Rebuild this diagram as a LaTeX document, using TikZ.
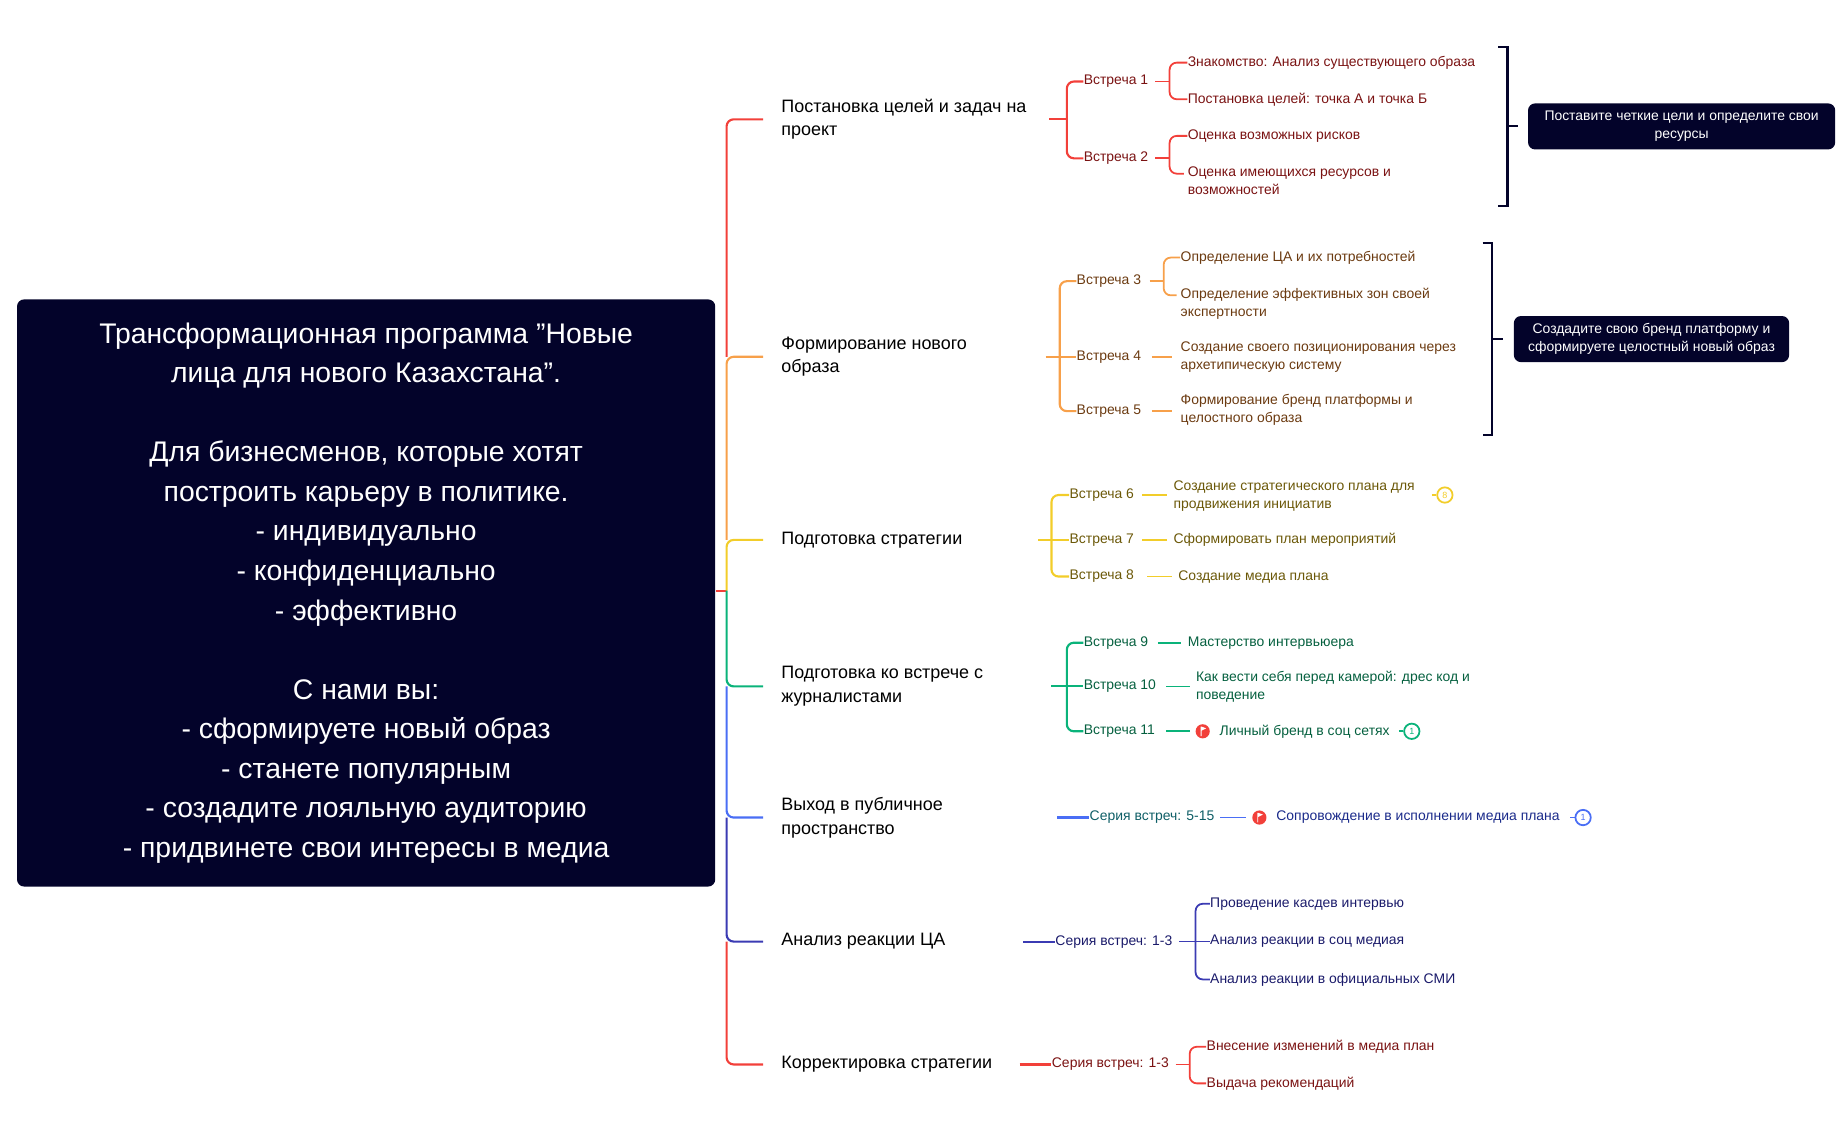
\documentclass[tikz,border=0pt]{standalone}
\usepackage{fontspec}
\setmainfont{Liberation Sans}
\begin{document}
\definecolor{navy}{HTML}{03032A}
\definecolor{cR}{HTML}{F2403A}\definecolor{tR}{HTML}{7A1212}
\definecolor{cO}{HTML}{F7A04A}\definecolor{tO}{HTML}{6B3A10}
\definecolor{cY}{HTML}{F2CD2A}\definecolor{tY}{HTML}{6B5808}
\definecolor{cG}{HTML}{0AB37A}\definecolor{tG}{HTML}{05603F}
\definecolor{cB}{HTML}{4A6EF5}\definecolor{tB}{HTML}{1A2A8A}
\definecolor{cI}{HTML}{3B3BB3}\definecolor{tI}{HTML}{1A1A6A}
\definecolor{tT}{HTML}{0E5E66}
\begin{tikzpicture}[x=0.5pt,y=-0.5pt,
  topic/.style={anchor=west,inner sep=0pt,font=\fontsize{7.6}{10}\selectfont,align=left},
  sm/.style={anchor=west,inner sep=0pt,font=\fontsize{5.9}{7.6}\selectfont,align=left},
  br/.style={line width=0.9pt,rounded corners=3pt},
  thin/.style={line width=0.75pt},
  dark/.style={fill=navy,rounded corners=3pt,text=white,font=\fontsize{5.9}{7.6}\selectfont,align=center,inner sep=0pt}]
\useasboundingbox (0,0) rectangle (1560,965);
% main box
\node[dark,minimum width=295.5pt,minimum height=248.5pt,anchor=north west,font=\fontsize{12}{16.75}\selectfont] (main) at (14,253)
 {Трансформационная программа "Новые\\лица для нового Казахстана".\\[16.75pt]Для бизнесменов, которые хотят\\построить карьеру в политике.\\- индивидуально\\- конфиденциально\\- эффективно\\[16.75pt]С нами вы:\\- сформируете новый образ\\- станете популярным\\- создадите лояльную аудиторию\\- придвинете свои интересы в медиа};
\coordinate (root) at (615,500);
\draw[cR,line width=1pt] (main.east|-root) -- (root);
% topics
\node[topic] (t1) at (661,101) {Постановка целей и задач на\\проект};
\node[topic] (t2) at (661,302) {Формирование нового\\образа};
\node[topic] (t3) at (661,457) {Подготовка стратегии};
\node[topic] (t4) at (661,581) {Подготовка ко встрече с\\журналистами};
\node[topic] (t5) at (661,692) {Выход в публичное\\пространство};
\node[topic] (t6) at (661,797) {Анализ реакции ЦА};
\node[topic] (t7) at (661,901) {Корректировка стратегии};
\draw[cY,br] (root) -- (615,457) -- (646,457);
\draw[cO,br] (615,457) -- (615,302) -- (646,302);
\draw[cR,br] (615,302) -- (615,101) -- (646,101);
\draw[cG,br] (root) -- (615,581) -- (646,581);
\draw[cB,br] (615,581) -- (615,692) -- (646,692);
\draw[cI,br] (615,692) -- (615,797) -- (646,797);
\draw[cR,br] (615,797) -- (615,901) -- (646,901);
% ---------- branch 1
\begin{scope}[tR]
\node[sm] (m1) at (917,69) {Встреча 1};
\node[sm] (m2) at (917,134) {Встреча 2};
\node[sm] (a1) at (1005,53) {Знакомство: Анализ существующего образа};
\node[sm] (a2) at (1005,84) {Постановка целей: точка А и точка Б};
\node[sm] (a3) at (1005,115) {Оценка возможных рисков};
\node[sm] (a4) at (1005,153) {Оценка имеющихся ресурсов и\\возможностей};
\end{scope}
\draw[cR,br] (888,101) -- (903,101);
\draw[cR,br] (m1.west) -- (903,69) -- (903,134) -- (m2.west);
\draw[cR,thin] (978,69) -- (990,69);
\draw[cR,thin,rounded corners=3pt] (a1.west) -- (990,53) -- (990,84) -- (a2.west);
\draw[cR,thin] (978,134) -- (990,134);
\draw[cR,thin,rounded corners=3pt] (a3.west) -- (990,115) -- (990,147) -- (1002,147);
\draw[navy,line width=0.9pt] (1268,40) -- (1276,40) -- (1276,174) -- (1268,174) (1276,107) -- (1285,107);
\node[dark,minimum width=130pt,minimum height=19.5pt,anchor=west] (g1) at (1293,107) {Поставите четкие цели и определите свои\\ресурсы};
% ---------- branch 2
\begin{scope}[tO]
\node[sm] (m3) at (911,238) {Встреча 3};
\node[sm] (m4) at (911,302) {Встреча 4};
\node[sm] (m5) at (911,348) {Встреча 5};
\node[sm] (b1) at (999,218) {Определение ЦА и их потребностей};
\node[sm] (b2) at (999,257) {Определение эффективных зон своей\\экспертности};
\node[sm] (b3) at (999,302) {Создание своего позиционирования через\\архетипическую систему};
\node[sm] (b4) at (999,347) {Формирование бренд платформы и\\целостного образа};
\end{scope}
\draw[cO,br] (885,302) -- (m4.west);
\draw[cO,br] (m3.west) -- (897,238) -- (897,348) -- (m5.west);
\draw[cO,thin] (973,238) -- (985,238);
\draw[cO,thin,rounded corners=3pt] (b1.west) -- (985,218) -- (985,250) -- (996,250);
\draw[cO,thin] (975,302) -- (992,302);
\draw[cO,thin] (975,348) -- (992,348);
\draw[navy,line width=0.9pt] (1255,206) -- (1263,206) -- (1263,368) -- (1255,368) (1263,287) -- (1272,287);
\node[dark,minimum width=116.5pt,minimum height=19.5pt,anchor=west] (g2) at (1281,287) {Создадите свою бренд платформу и\\сформируете целостный новый образ};
% ---------- branch 3
\begin{scope}[tY]
\node[sm] (m6) at (905,419) {Встреча 6};
\node[sm] (m7) at (905,457) {Встреча 7};
\node[sm] (m8) at (905,488) {Встреча 8};
\node[sm] (c1) at (993,420) {Создание стратегического плана для\\продвижения инициатив};
\node[sm] (c2) at (993,457) {Сформировать план мероприятий};
\node[sm] (c3) at (997,488) {Создание медиа плана};
\end{scope}
\draw[cY,br] (879,457) -- (m7.west);
\draw[cY,br] (m6.west) -- (890,419) -- (890,488) -- (m8.west);
\draw[cY,thin] (967,419) -- (988,419) (967,457) -- (988,457) (971,488) -- (992,488);
\node[circle,draw=cY,thin,inner sep=0pt,minimum size=6.5pt,text=cY,font=\fontsize{3.8}{4}\selectfont] (n8) at (1223,419) {8};
\draw[cY,thin] (1212,419) -- (n8.west);
% ---------- branch 4
\begin{scope}[tG]
\node[sm] (m9) at (917,544) {Встреча 9};
\node[sm] (m10) at (917,581) {Встреча 10};
\node[sm] (m11) at (917,619) {Встреча 11};
\node[sm] (d1) at (1005,544) {Мастерство интервьюера};
\node[sm] (d2) at (1012,581) {Как вести себя перед камерой: дрес код и\\поведение};
\node[sm] (d3) at (1032,619) {Личный бренд в соц сетях};
\end{scope}
\draw[cG,br] (890,581) -- (m10.west);
\draw[cG,br] (m9.west) -- (903,544) -- (903,619) -- (m11.west);
\draw[cG,thin] (980,544) -- (1000,544) (987,581) -- (1007,581) (987,619) -- (1007,619);
\node[circle,fill=cR,inner sep=0pt,minimum size=6pt] (f1) at (1018,619) {};
\fill[white] (1016.2,623) rectangle (1017,615) (1017,615) -- (1021,616.5) -- (1017,618.5) -- cycle;
\node[circle,draw=cG,thin,inner sep=0pt,minimum size=6.5pt,text=cG,font=\fontsize{3.8}{4}\selectfont] (n1) at (1195,619) {1};
\draw[cG,thin] (1184,619) -- (n1.west);
% ---------- branch 5
\node[sm,text=tT] (s5) at (922,692) {Серия встреч: 5-15};
\node[sm,text=tB] (e1) at (1080,692) {Сопровождение в исполнении медиа плана};
\draw[cB,br] (895,692) -- (s5.west);
\draw[cB,thin] (1033,692) -- (1055,692);
\node[circle,fill=cR,inner sep=0pt,minimum size=6pt] (f2) at (1066,692) {};
\fill[white] (1064.2,696) rectangle (1065,688) (1065,688) -- (1069,689.5) -- (1065,691.5) -- cycle;
\node[circle,draw=cB,thin,inner sep=0pt,minimum size=6.5pt,text=cB,font=\fontsize{3.8}{4}\selectfont] (n2) at (1340,692) {1};
\draw[cB,thin] (1329,692) -- (n2.west);
% ---------- branch 6
\begin{scope}[tI]
\node[sm] (s6) at (893,797) {Серия встреч: 1-3};
\node[sm] (h1) at (1024,765) {Проведение касдев интервью};
\node[sm] (h2) at (1024,797) {Анализ реакции в соц медиая};
\node[sm] (h3) at (1024,829) {Анализ реакции в официальных СМИ};
\end{scope}
\draw[cI,br] (866,797) -- (s6.west);
\draw[cI,thin] (998,797) -- (h2.west);
\draw[cI,thin,rounded corners=3pt] (h1.west) -- (1012,765) -- (1012,829) -- (h3.west);
% ---------- branch 7
\begin{scope}[tR]
\node[sm] (s7) at (890,901) {Серия встреч: 1-3};
\node[sm] (k1) at (1021,886) {Внесение изменений в медиа план};
\node[sm] (k2) at (1021,917) {Выдача рекомендаций};
\end{scope}
\draw[cR,br] (863,901) -- (s7.west);
\draw[cR,thin] (995,901) -- (1007,901);
\draw[cR,thin,rounded corners=3pt] (k1.west) -- (1007,886) -- (1007,917) -- (k2.west);
\end{tikzpicture}
\end{document}
